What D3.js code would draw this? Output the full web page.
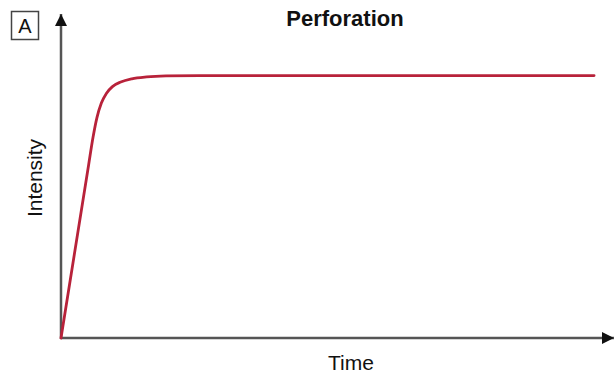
<!DOCTYPE html>
<html>
<head>
<meta charset="utf-8">
<script src="https://cdn.jsdelivr.net/npm/d3@7"></script>
<style>
  body { margin: 0; background: #fff; }
  text { font-family: "Liberation Sans", Arial, sans-serif; fill: #111; }
</style>
</head>
<body>
<div class="chart"></div>
<script>
const WIDTH = 615;
const HEIGHT = 379;

// curve (arbitrary units, 0..100 on both axes)
var time = [0, 5, 5.8, 6.5, 7.3, 8.2, 9.3, 10.8, 12.8, 15.5, 19, 25, 96.4];
var intensity = [0, 53.5, 62, 68, 72.5, 75.5, 77.6, 79, 80, 80.6, 80.9, 81, 81];

var title = 'Perforation';
var panelLabel = 'A';
var xLabel = 'Time';
var yLabel = 'Intensity';

var points = time.map(function (t, i) {
    return {x: t, y: intensity[i]};
});

var xScale = d3.scaleLinear().domain([0, 100]).range([61, 614]);
var yScale = d3.scaleLinear().domain([0, 100]).range([338, 14]);

var svg = d3.select('.chart').append('svg')
    .attr('width', WIDTH)
    .attr('height', HEIGHT);

var defs = svg.append('defs');
defs.append('marker')
    .attr('id', 'arrow')
    .attr('viewBox', '0 0 10 10')
    .attr('refX', 10)
    .attr('refY', 5)
    .attr('markerUnits', 'userSpaceOnUse')
    .attr('markerWidth', 16)
    .attr('markerHeight', 12)
    .attr('orient', 'auto')
    .append('path')
    .attr('d', 'M0,0 L10,5 L0,10 Z')
    .attr('fill', '#111');

function drawAxes() {
    var g = svg.append('g');
    g.append('line')
        .attr('x1', xScale(0)).attr('y1', yScale(0))
        .attr('x2', xScale(100)).attr('y2', yScale(0))
        .attr('stroke', '#555')
        .attr('stroke-width', 2.5)
        .attr('marker-end', 'url(#arrow)');
    g.append('line')
        .attr('x1', xScale(0)).attr('y1', yScale(0) + 1)
        .attr('x2', xScale(0)).attr('y2', yScale(100))
        .attr('stroke', '#555')
        .attr('stroke-width', 2.5)
        .attr('marker-end', 'url(#arrow)');
}

function drawCurve() {
    var line = d3.line()
        .x(function (d) { return xScale(d.x); })
        .y(function (d) { return yScale(d.y); })
        .curve(d3.curveMonotoneX);
    svg.append('path')
        .attr('d', line(points))
        .attr('fill', 'none')
        .attr('stroke', '#b8223a')
        .attr('stroke-width', 2.8)
        .attr('stroke-linecap', 'round');
}

function drawLabels() {
    svg.append('text')
        .text(title)
        .attr('x', 345)
        .attr('y', 26)
        .attr('text-anchor', 'middle')
        .attr('font-weight', 'bold')
        .attr('font-size', 22);

    svg.append('rect')
        .attr('x', 11.5).attr('y', 11.5)
        .attr('width', 27).attr('height', 28)
        .attr('fill', 'none')
        .attr('stroke', '#444')
        .attr('stroke-width', 1.5);
    svg.append('text')
        .text(panelLabel)
        .attr('x', 25)
        .attr('y', 33)
        .attr('text-anchor', 'middle')
        .attr('font-size', 20);

    svg.append('text')
        .text(xLabel)
        .attr('x', 351)
        .attr('y', 370)
        .attr('text-anchor', 'middle')
        .attr('font-size', 21);

    svg.append('text')
        .text(yLabel)
        .attr('transform', 'translate(42,178) rotate(-90)')
        .attr('text-anchor', 'middle')
        .attr('font-size', 21);
}

drawAxes();
drawCurve();
drawLabels();
</script>
</body>
</html>
